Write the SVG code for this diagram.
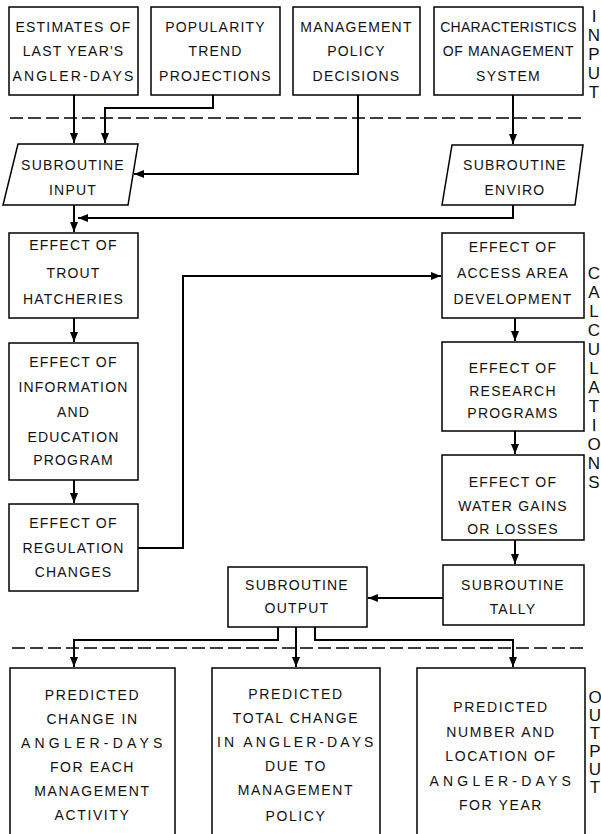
<svg xmlns="http://www.w3.org/2000/svg" width="601" height="834" viewBox="0 0 601 834">
<defs>
<marker id="ah" markerUnits="userSpaceOnUse" markerWidth="10" markerHeight="10" viewBox="0 0 10 10" refX="10" refY="5" orient="auto">
<path d="M0,1 L10,5 L0,9 Z" fill="#000"/>
</marker>
</defs>
<style>
.box{fill:#fff;stroke:#000;stroke-width:1.5}
.t{font-family:"Liberation Sans",Arial,sans-serif;font-size:14px;text-anchor:middle;letter-spacing:1.2px;fill:#111}
.b{letter-spacing:1.6px}
.side{font-family:"Liberation Sans",Arial,sans-serif;font-size:17px;text-anchor:middle;fill:#111}
.c{fill:none;stroke:#000;stroke-width:2}
.dash{fill:none;stroke:#000;stroke-width:1.5;stroke-dasharray:13 5}
</style>
<rect width="601" height="834" fill="#fff"/>

<g id="sep">
<line class="dash" x1="10" y1="118" x2="583" y2="118"/>
<line class="dash" x1="12" y1="648" x2="583" y2="648"/>
</g>

<g id="connectors">
<polyline class="c" points="74,95 74,143" marker-end="url(#ah)"/>
<polyline class="c" points="213,95 213,108 105,108 105,143" marker-end="url(#ah)"/>
<polyline class="c" points="358,95 358,174 134,174" marker-end="url(#ah)"/>
<polyline class="c" points="513,95 513,144" marker-end="url(#ah)"/>
<polyline class="c" points="513,205 513,218 78,218" marker-end="url(#ah)"/>
<polyline class="c" points="74,205 74,232" marker-end="url(#ah)"/>
<polyline class="c" points="74,318 74,342" marker-end="url(#ah)"/>
<polyline class="c" points="74,480 74,503" marker-end="url(#ah)"/>
<polyline class="c" points="138,548 183,548 183,276 441,276" marker-end="url(#ah)"/>
<polyline class="c" points="515,318 515,341" marker-end="url(#ah)"/>
<polyline class="c" points="515,431 515,454" marker-end="url(#ah)"/>
<polyline class="c" points="515,540 515,564" marker-end="url(#ah)"/>
<polyline class="c" points="443,598 368,598" marker-end="url(#ah)"/>
<polyline class="c" points="278,627 278,640 74,640 74,667" marker-end="url(#ah)"/>
<polyline class="c" points="296,627 296,667" marker-end="url(#ah)"/>
<polyline class="c" points="315,627 315,640 513,640 513,667" marker-end="url(#ah)"/>
</g>

<g id="estimates">
<rect class="box" x="9" y="7" width="129" height="88"/>
<text class="t" x="73.5" y="32">ESTIMATES OF</text>
<text class="t" x="73.5" y="56">LAST YEAR'S</text>
<text class="t" x="73.5" y="81" textLength="122" lengthAdjust="spacing">ANGLER-DAYS</text>
</g>
<g id="popularity">
<rect class="box" x="151" y="7" width="129" height="88"/>
<text class="t" x="215.5" y="32">POPULARITY</text>
<text class="t" x="215.5" y="56">TREND</text>
<text class="t" x="215.5" y="81">PROJECTIONS</text>
</g>
<g id="policy">
<rect class="box" x="293" y="7" width="127" height="88"/>
<text class="t" x="356.5" y="32">MANAGEMENT</text>
<text class="t" x="356.5" y="56">POLICY</text>
<text class="t" x="356.5" y="81">DECISIONS</text>
</g>
<g id="characteristics">
<rect class="box" x="434" y="7" width="149" height="88"/>
<text class="t" x="508.5" y="32" style="letter-spacing:0.3px">CHARACTERISTICS</text>
<text class="t" x="508.5" y="56" style="letter-spacing:0.6px">OF MANAGEMENT</text>
<text class="t" x="508.5" y="81">SYSTEM</text>
</g>
<g id="label-input">
<text class="side" x="594" y="22">I</text>
<text class="side" x="594" y="41">N</text>
<text class="side" x="594" y="60">P</text>
<text class="side" x="594" y="79">U</text>
<text class="side" x="594" y="98">T</text>
</g>

<g id="sub-input">
<polygon class="box" points="18,144 138,144 128,205 3,205"/>
<text class="t" x="73" y="170">SUBROUTINE</text>
<text class="t" x="73" y="195">INPUT</text>
</g>
<g id="sub-enviro">
<polygon class="box" points="452,145 583,145 575,205 442,205"/>
<text class="t" x="515" y="170">SUBROUTINE</text>
<text class="t" x="515" y="195">ENVIRO</text>
</g>

<g id="trout">
<rect class="box" x="9" y="233" width="129" height="85"/>
<text class="t" x="73.5" y="250">EFFECT OF</text>
<text class="t" x="73.5" y="278">TROUT</text>
<text class="t" x="73.5" y="304">HATCHERIES</text>
</g>
<g id="information">
<rect class="box" x="9" y="343" width="129" height="137"/>
<text class="t" x="73.5" y="367">EFFECT OF</text>
<text class="t" x="73.5" y="392">INFORMATION</text>
<text class="t" x="73.5" y="417">AND</text>
<text class="t" x="73.5" y="442">EDUCATION</text>
<text class="t" x="73.5" y="465">PROGRAM</text>
</g>
<g id="regulation">
<rect class="box" x="9" y="504" width="129" height="87"/>
<text class="t" x="73.5" y="528">EFFECT OF</text>
<text class="t" x="73.5" y="553">REGULATION</text>
<text class="t" x="73.5" y="577">CHANGES</text>
</g>

<g id="access">
<rect class="box" x="442" y="233" width="142" height="85"/>
<text class="t" x="513" y="252">EFFECT OF</text>
<text class="t" x="513" y="278">ACCESS AREA</text>
<text class="t" x="513" y="304">DEVELOPMENT</text>
</g>
<g id="research">
<rect class="box" x="442" y="342" width="142" height="89"/>
<text class="t" x="513" y="373">EFFECT OF</text>
<text class="t" x="513" y="396">RESEARCH</text>
<text class="t" x="513" y="418">PROGRAMS</text>
</g>
<g id="water">
<rect class="box" x="442" y="455" width="142" height="85"/>
<text class="t" x="513" y="487">EFFECT OF</text>
<text class="t" x="513" y="511">WATER GAINS</text>
<text class="t" x="513" y="534">OR LOSSES</text>
</g>
<g id="label-calculations">
<text class="side" x="594" y="279">C</text>
<text class="side" x="594" y="298">A</text>
<text class="side" x="594" y="317">L</text>
<text class="side" x="594" y="336">C</text>
<text class="side" x="594" y="355">U</text>
<text class="side" x="594" y="374">L</text>
<text class="side" x="594" y="393">A</text>
<text class="side" x="594" y="412">T</text>
<text class="side" x="594" y="431">I</text>
<text class="side" x="594" y="450">O</text>
<text class="side" x="594" y="469">N</text>
<text class="side" x="594" y="488">S</text>
</g>

<g id="sub-tally">
<rect class="box" x="443" y="565" width="141" height="60"/>
<text class="t" x="513" y="590">SUBROUTINE</text>
<text class="t" x="513" y="614">TALLY</text>
</g>
<g id="sub-output">
<rect class="box" x="228" y="567" width="139" height="60"/>
<text class="t" x="297" y="590">SUBROUTINE</text>
<text class="t" x="297" y="613">OUTPUT</text>
</g>

<g id="pred-change">
<rect class="box" x="10" y="668" width="165" height="180"/>
<text class="t b" x="92.5" y="700">PREDICTED</text>
<text class="t b" x="92.5" y="724">CHANGE IN</text>
<text class="t b" x="92.5" y="748" textLength="143" lengthAdjust="spacing">ANGLER-DAYS</text>
<text class="t b" x="92.5" y="772">FOR EACH</text>
<text class="t b" x="92.5" y="796">MANAGEMENT</text>
<text class="t b" x="92.5" y="820">ACTIVITY</text>
</g>
<g id="pred-total">
<rect class="box" x="212" y="668" width="168" height="180"/>
<text class="t b" x="296" y="699">PREDICTED</text>
<text class="t b" x="296" y="723">TOTAL CHANGE</text>
<text class="t b" x="296" y="747" textLength="158" lengthAdjust="spacing">IN ANGLER-DAYS</text>
<text class="t b" x="296" y="771">DUE TO</text>
<text class="t b" x="296" y="795">MANAGEMENT</text>
<text class="t b" x="296" y="821">POLICY</text>
</g>
<g id="pred-number">
<rect class="box" x="417" y="668" width="168" height="180"/>
<text class="t b" x="501" y="712">PREDICTED</text>
<text class="t b" x="501" y="737">NUMBER AND</text>
<text class="t b" x="501" y="761">LOCATION OF</text>
<text class="t b" x="501" y="786" textLength="143" lengthAdjust="spacing">ANGLER-DAYS</text>
<text class="t b" x="501" y="810">FOR YEAR</text>
</g>
<g id="label-output">
<text class="side" x="595" y="703">O</text>
<text class="side" x="595" y="721">U</text>
<text class="side" x="595" y="739">T</text>
<text class="side" x="595" y="757">P</text>
<text class="side" x="595" y="775">U</text>
<text class="side" x="595" y="793">T</text>
</g>
</svg>
